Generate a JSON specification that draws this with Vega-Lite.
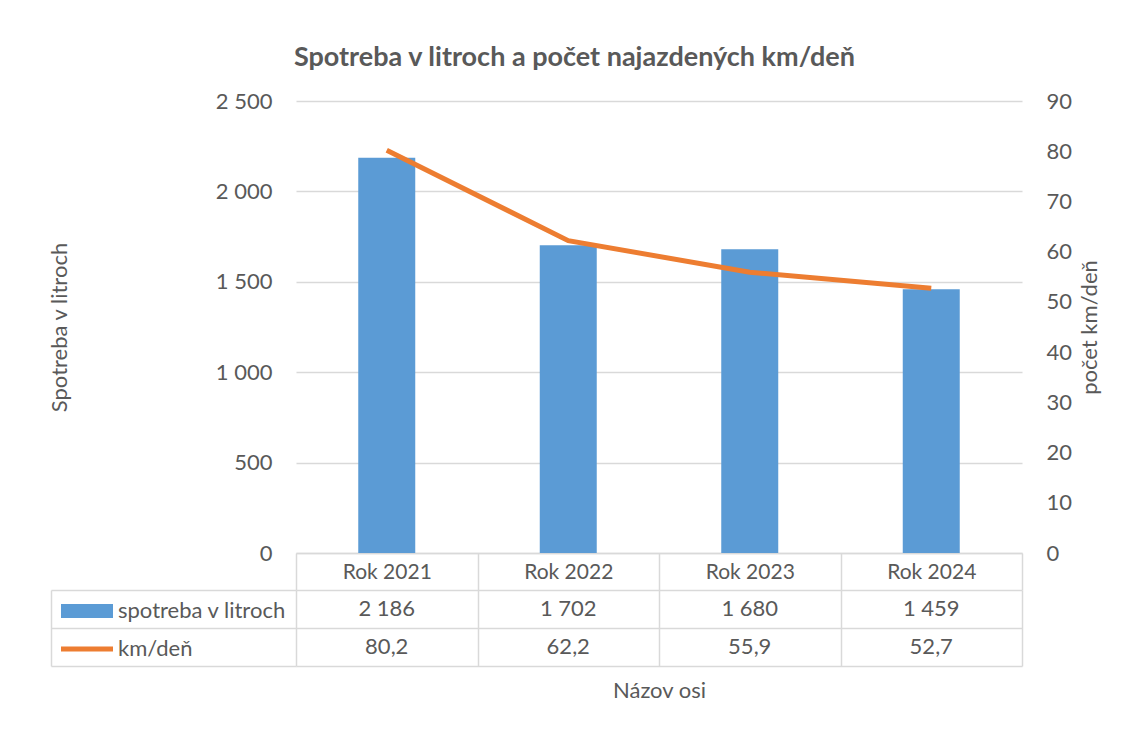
{
  "$schema": "https://vega.github.io/schema/vega-lite/v6.json",
  "padding": {"left": 48, "top": 44, "right": 5, "bottom": 5},
  "background": "white",
  "config": {
    "locale": {"number": {"decimal": ",", "thousands": " ", "grouping": [3], "currency": ["", ""]}},
    "font": "Lato",
    "view": {"stroke": null},
    "axis": {
      "labelColor": "#595959", "labelFont": "Lato", "labelFontSize": 22,
      "titleColor": "#595959", "titleFont": "Lato", "titleFontSize": 22, "titleFontWeight": "normal",
      "gridColor": "#d9d9d9", "gridWidth": 1.5, "domainColor": "#d9d9d9", "domainWidth": 1.5,
      "tickColor": "#d9d9d9", "tickWidth": 1.5
    },
    "legend": {"labelColor": "#595959", "labelFont": "Lato", "labelFontSize": 22}
  },
  "title": {"text": "Spotreba v litroch a počet najazdených km/deň", "font": "Lato", "fontSize": 27, "fontWeight": "bold", "color": "#595959", "anchor": "middle", "offset": 18},
  "datasets": {
    "d": [
      {"rok": "Rok 2021", "spotreba": 2186, "km": 80.2},
      {"rok": "Rok 2022", "spotreba": 1702, "km": 62.2},
      {"rok": "Rok 2023", "spotreba": 1680, "km": 55.9},
      {"rok": "Rok 2024", "spotreba": 1459, "km": 52.7}
    ]
  },
  "bounds": "flush",
  "spacing": 37,
  "vconcat": [
    {
      "width": 726,
      "height": 452,
      "data": {"name": "d"},
      "encoding": {
        "x": {
          "field": "rok", "type": "nominal", "sort": null,
          "scale": {"paddingInner": 0, "paddingOuter": 0},
          "axis": {"title": null, "labelAngle": 0, "labelFontSize": 21, "grid": false, "domain": true, "ticks": true, "tickBand": "extent", "tickSize": 37, "labelPadding": -29}
        }
      },
      "layer": [
        {
          "mark": {"type": "bar", "width": 57},
          "encoding": {
            "y": {
              "field": "spotreba", "type": "quantitative",
              "scale": {"domain": [0, 2500], "nice": false},
              "axis": {"title": "Spotreba v litroch", "values": [0, 500, 1000, 1500, 2000, 2500], "format": ",.0f", "grid": true, "domain": false, "ticks": false, "labelPadding": 24, "titlePadding": 144}
            },
            "color": {
              "datum": "spotreba v litroch", "type": "nominal",
              "scale": {"domain": ["spotreba v litroch", "km/deň"], "range": ["#5B9BD5", "#ED7D31"]},
              "legend": {
                "title": null, "orient": "none", "legendX": -235, "legendY": 499,
                "padding": 0, "rowPadding": 16, "labelOffset": 5, "labelLimit": 400,
                "symbolSize": 2704, "symbolType": "M-1,-0.27L1,-0.27L1,0.27L-1,0.27Z",
                "encode": {
                  "symbols": {
                    "update": {
                      "x": {"value": 26},
                      "shape": {"signal": "datum.index === 1 ? 'M-1,0L1,0' : 'M-1,-0.27L1,-0.27L1,0.27L-1,0.27Z'"},
                      "fill": {"signal": "datum.index === 1 ? 'transparent' : '#5B9BD5'"},
                      "stroke": {"signal": "datum.index === 1 ? '#ED7D31' : 'transparent'"},
                      "strokeWidth": {"signal": "datum.index === 1 ? 5 : 0"},
                      "opacity": {"value": 1},
                      "fillOpacity": {"value": 1},
                      "strokeOpacity": {"value": 1}
                    }
                  },
                  "labels": {
                    "update": {"x": {"value": 57}}
                  }
                }
              }
            }
          }
        },
        {
          "mark": {"type": "line", "strokeWidth": 5, "strokeCap": "butt"},
          "encoding": {
            "y": {
              "field": "km", "type": "quantitative",
              "scale": {"domain": [0, 90], "nice": false},
              "axis": {"orient": "right", "title": "počet km/deň", "titleAngle": 270, "titleBaseline": "bottom", "values": [0, 10, 20, 30, 40, 50, 60, 70, 80, 90], "grid": false, "domain": false, "ticks": false, "labelPadding": 24, "titlePadding": 30}
            },
            "color": {"datum": "km/deň", "type": "nominal"}
          }
        }
      ],
      "resolve": {"scale": {"y": "independent"}}
    },
    {
      "width": 726,
      "height": 76,
      "data": {"name": "d"},
      "encoding": {
        "x": {
          "field": "rok", "type": "nominal", "sort": null,
          "scale": {"paddingInner": 0, "paddingOuter": 0},
          "axis": {"orient": "bottom", "title": "Názov osi", "labels": false, "ticks": false, "domain": false, "grid": true, "tickBand": "extent", "titlePadding": 14}
        }
      },
      "layer": [
        {
          "mark": {"type": "text", "fontSize": 22, "color": "#595959", "font": "Lato"},
          "encoding": {
            "y": {
              "datum": "spotreba v litroch", "type": "nominal",
              "scale": {"domain": ["spotreba v litroch", "km/deň"], "paddingInner": 0, "paddingOuter": 0},
              "axis": {"title": null, "labels": false, "offset": 245, "domain": true, "ticks": true, "tickSize": -245, "tickBand": "extent", "grid": true}
            },
            "text": {"field": "spotreba", "type": "quantitative", "format": ",.0f"}
          }
        },
        {
          "mark": {"type": "text", "fontSize": 22, "color": "#595959", "font": "Lato"},
          "encoding": {
            "y": {"datum": "km/deň", "type": "nominal"},
            "text": {"field": "km", "type": "quantitative", "format": ".1f"}
          }
        }
      ]
    }
  ]
}
